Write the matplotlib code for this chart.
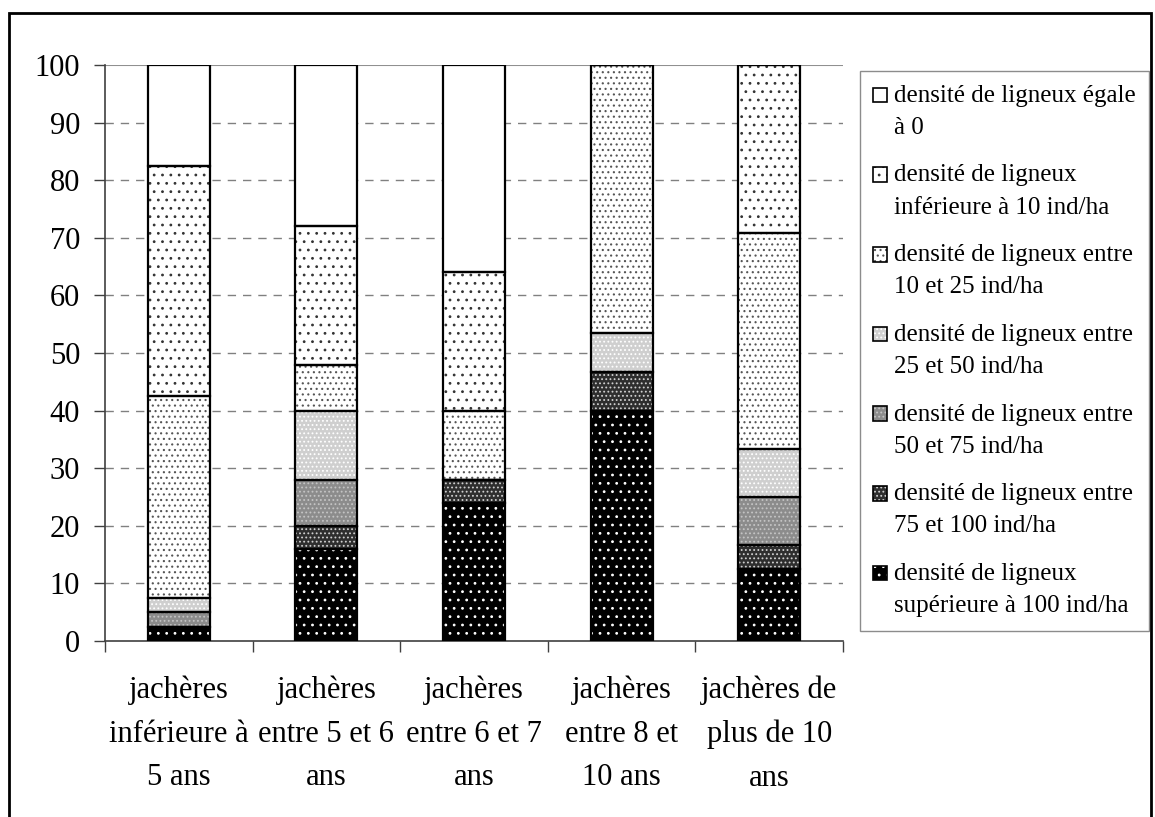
import matplotlib

matplotlib.use("Agg")
import matplotlib.pyplot as plt
import numpy as np
from matplotlib.legend_handler import HandlerBase
from matplotlib.patches import Rectangle

CATEGORIES = [
    "jachères\ninférieure à\n5 ans",
    "jachères\nentre 5 et 6\nans",
    "jachères\nentre 6 et 7\nans",
    "jachères\nentre 8 et\n10 ans",
    "jachères de\nplus de 10\nans",
]

# stacking order, bottom to top (% of plots per age class)
SUP_100 = [2.5, 16.0, 24.0, 40.0, 12.5]
ENTRE_75_100 = [0.0, 4.0, 4.0, 6.7, 4.2]
ENTRE_50_75 = [2.5, 8.0, 0.0, 0.0, 8.3]
ENTRE_25_50 = [2.5, 12.0, 0.0, 6.7, 8.3]
ENTRE_10_25 = [35.0, 8.0, 12.0, 46.6, 37.5]
INF_10 = [40.0, 24.0, 24.0, 0.0, 29.2]
EGAL_0 = [17.5, 28.0, 36.0, 0.0, 0.0]

SERIES = [SUP_100, ENTRE_75_100, ENTRE_50_75, ENTRE_25_50, ENTRE_10_25, INF_10, EGAL_0]
LABELS = [
    "densité de ligneux\nsupérieure à 100 ind/ha",
    "densité de ligneux entre\n75 et 100 ind/ha",
    "densité de ligneux entre\n50 et 75 ind/ha",
    "densité de ligneux entre\n25 et 50 ind/ha",
    "densité de ligneux entre\n10 et 25 ind/ha",
    "densité de ligneux\ninférieure à 10 ind/ha",
    "densité de ligneux égale\nà 0",
]

# (face colour, hatch colour, hatch) -- grey-scale Excel-like fills
STYLES = [
    ("#000000", "#ffffff", ".."),
    ("#2e2e2e", "#cfcfcf", "...."),
    ("#8c8c8c", "#c4c4c4", "...."),
    ("#cfcfcf", "#ffffff", "...."),
    ("#ffffff", "#555555", "..."),
    ("#ffffff", "#333333", ".."),
    ("#ffffff", "#ffffff", ""),
]

plt.rcParams["font.family"] = ["Liberation Serif", "DejaVu Serif"]
plt.rcParams["hatch.linewidth"] = 0.8


class LiftedSwatch(HandlerBase):
    """Small square swatch aligned with the first line of a two-line label."""

    def __init__(self, lift, size):
        super().__init__()
        self.lift = lift
        self.size = size

    def create_artists(self, legend, orig_handle, xdescent, ydescent,
                       width, height, fontsize, trans):
        s = self.size
        x0 = -xdescent + (width - s) / 2
        y0 = -ydescent + (height - s) / 2 + self.lift
        fill = Rectangle((x0, y0), s, s, facecolor=orig_handle.get_facecolor(),
                         edgecolor=orig_handle.get_edgecolor(),
                         hatch=orig_handle.get_hatch(), linewidth=0,
                         transform=trans)
        edge = Rectangle((x0, y0), s, s, fill=False, edgecolor="black",
                         linewidth=1.2, transform=trans)
        return [fill, edge]


W, H = 1155, 817
fig = plt.figure(figsize=(W / 100, H / 100), dpi=100)
ax = fig.add_axes([105 / W, 1 - 641 / H, (843 - 105) / W, (641 - 65) / H])

x = np.arange(len(CATEGORIES))
bottom = np.zeros(len(CATEGORIES))
width = 0.42
proxies = []
for vals, (face, hcol, hatch) in zip(SERIES, STYLES):
    vals = np.asarray(vals)
    ax.bar(x, vals, width, bottom=bottom, color=face, edgecolor=hcol,
           linewidth=0, hatch=hatch, zorder=3)
    ax.bar(x, vals, width, bottom=bottom, fill=False, edgecolor="black",
           linewidth=1.6, zorder=4)
    proxies.append(Rectangle((0, 0), 1, 1, facecolor=face, edgecolor=hcol,
                             hatch=hatch))
    bottom += vals

ax.set_xlim(-0.5, len(CATEGORIES) - 0.5)
ax.set_ylim(0, 100)
ax.set_yticks(np.arange(0, 101, 10))
ax.set_xticks(x)
ax.set_xticklabels(CATEGORIES, fontsize=22, linespacing=1.65)
ax.set_xticks(np.arange(-0.5, len(CATEGORIES)), minor=True)
ax.tick_params(axis="x", which="major", length=0, pad=25)
ax.tick_params(axis="x", which="minor", length=8, width=1, color="#404040",
               direction="out")
ax.tick_params(axis="y", labelsize=22, length=8, width=1, color="#404040",
               direction="out", pad=10)

for yv in range(10, 100, 10):
    ax.axhline(yv, color="#808080", linewidth=1, dashes=(6, 5), zorder=1)
ax.axhline(100, color="#909090", linewidth=1.5, zorder=1)

for side in ("top", "right"):
    ax.spines[side].set_visible(False)
for side in ("left", "bottom"):
    ax.spines[side].set_color("#404040")
    ax.spines[side].set_linewidth(1.2)

leg = ax.legend(proxies[::-1], LABELS[::-1], loc="upper left",
                bbox_to_anchor=(860 / W, 1 - 71 / H),
                bbox_transform=fig.transFigure, fontsize=18,
                handler_map={Rectangle: LiftedSwatch(lift=12.0, size=10.5)},
                handlelength=0.5, handletextpad=0.3, labelspacing=1.02,
                borderpad=0.55, borderaxespad=0, fancybox=False, frameon=True)
for t in leg.get_texts():
    t.set_linespacing(1.6)
leg.get_frame().set_edgecolor("#707070")
leg.get_frame().set_linewidth(1)

fig.patches.append(Rectangle((9 / W, -0.05), (1151 - 9) / W, 1.05 - 13 / H,
                             transform=fig.transFigure, fill=False,
                             edgecolor="black", linewidth=2))

fig.savefig("out.png", dpi=100)
